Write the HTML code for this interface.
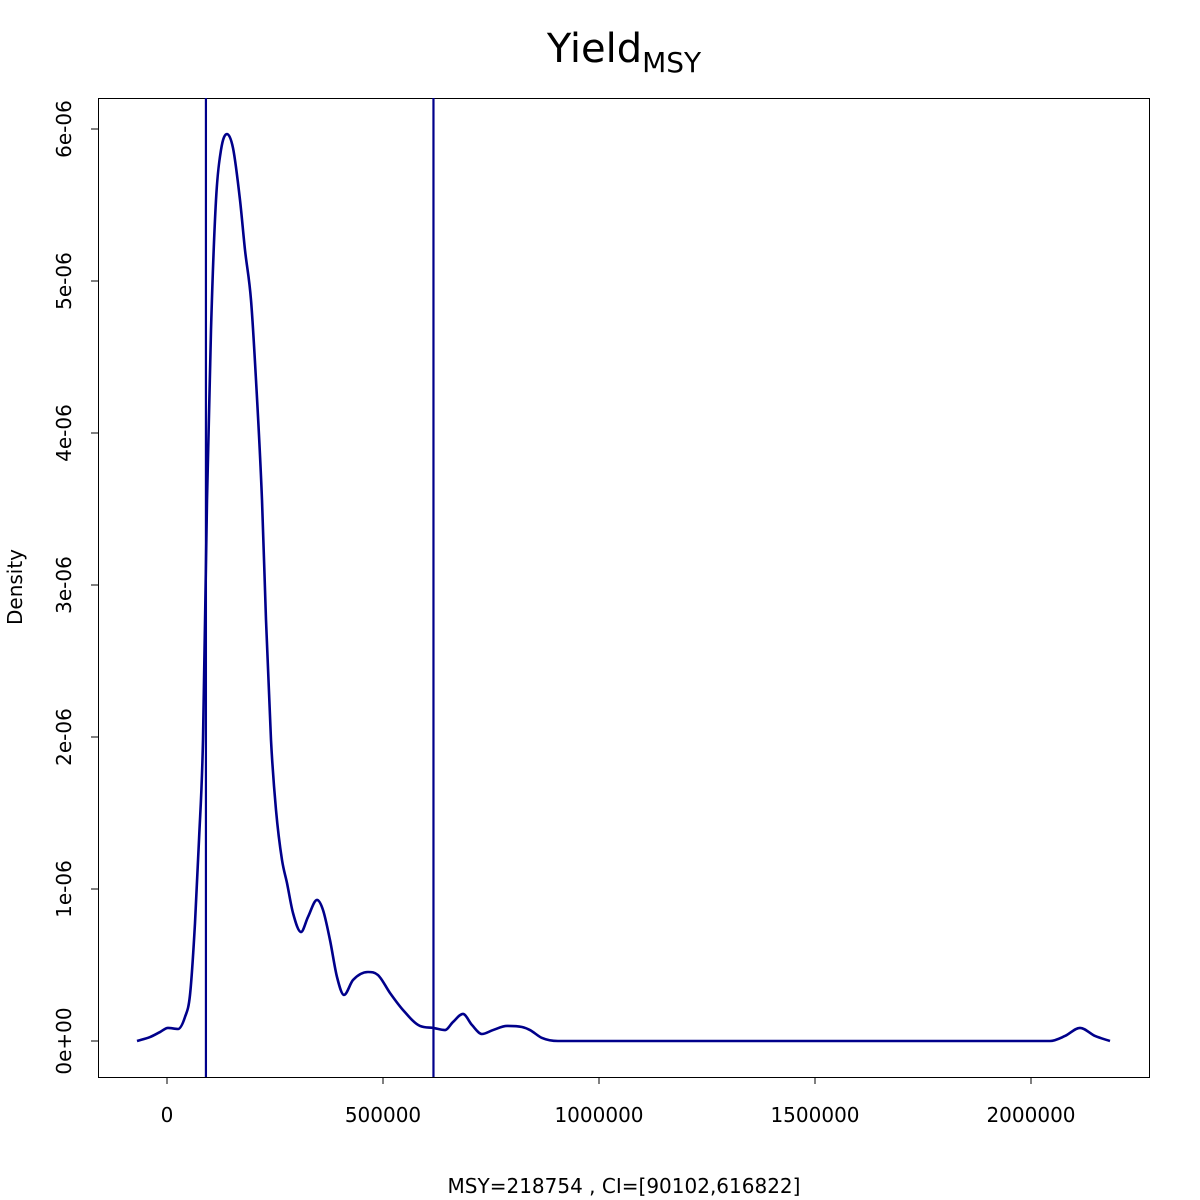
<!DOCTYPE html>
<html><head><meta charset="utf-8"><style>
html,body{margin:0;padding:0;background:#fff}
svg{display:block;font-family:"DejaVu Sans","Liberation Sans",sans-serif}
</style></head><body>
<svg id="chart" width="1200" height="1200" viewBox="0 0 1200 1200">
<text x="624" y="62" font-size="40" text-anchor="middle">Yield<tspan font-size="28" dy="10">MSY</tspan></text>
<rect x="98.5" y="98.5" width="1051" height="979" fill="none" stroke="#000" stroke-width="1"/>
<g id="xaxis"></g>
<g id="yaxis"></g>
<text x="22" y="587" font-size="20" text-anchor="middle" transform="rotate(-90 22 587)">Density</text>
<text x="624" y="1193" font-size="20" text-anchor="middle">MSY=218754 , CI=[90102,616822]</text>
<g id="marks"></g>
</svg>
<script>
const xVals=[-69444,-39352,-16204,2315,25463,41667,53241,64815,74074,83333,92593,101852,113426,125000,138889,152778,168981,180556,194444,206019,219907,229167,240741,252315,266204,277778,291667,310185,326389,347222,361111,377315,393519,409722,430556,465278,488426,516204,546296,585648,615741,643519,662037,685185,706019,729167,754630,787037,821759,840278,868056,905093,2043981,2078704,2113426,2148148,2182870];
const densityVals=[0,0.026,0.059,0.086,0.079,0.158,0.303,0.776,1.322,1.980,3.559,4.678,5.533,5.862,5.967,5.875,5.533,5.204,4.875,4.349,3.559,2.770,1.980,1.520,1.191,1.039,0.842,0.717,0.816,0.928,0.862,0.664,0.421,0.303,0.401,0.454,0.434,0.316,0.204,0.099,0.086,0.072,0.125,0.178,0.105,0.046,0.072,0.099,0.092,0.072,0.020,0,0,0.033,0.086,0.033,0];
const ciVals=[90102,616822];
const xTicks=[0,500000,1000000,1500000,2000000];
const xTickLabels=["0","500000","1000000","1500000","2000000"];
const yTicks=[0,1,2,3,4,5,6];
const yTickLabels=["0e+00","1e-06","2e-06","3e-06","4e-06","5e-06","6e-06"];

const NS="http://www.w3.org/2000/svg";
const X=v=>167+v*216/500000;
const Y=v=>1041-v*152;
const col="#00008B";
function mk(tag,attrs,parent){const e=document.createElementNS(NS,tag);for(const k in attrs)e.setAttribute(k,attrs[k]);parent.appendChild(e);return e;}
const xa=document.getElementById('xaxis'),ya=document.getElementById('yaxis'),mg=document.getElementById('marks');
xTicks.forEach((t,i)=>{
 const l=mk('line',{x1:X(t),x2:X(t),y1:1077,y2:1084,stroke:'#000'},xa);
 
 
 const tx=mk('text',{x:X(t),y:1122,'font-size':20,'text-anchor':'middle'},xa);
 tx.textContent=xTickLabels[i];
 
 
});
yTicks.forEach((t,i)=>{
 const l=mk('line',{x1:91,x2:98,y1:Y(t),y2:Y(t),stroke:'#000'},ya);
 
 
 const tx=mk('text',{x:71,y:Y(t),'font-size':20,'text-anchor':'middle',transform:`rotate(-90 71 ${Y(t)})`},ya);
 tx.textContent=yTickLabels[i];
 
 
});
// monotone cubic (Fritsch-Carlson) in pixel space
const P=xVals.map((v,i)=>[X(v),Y(densityVals[i])]);
const n=P.length,dk=[],m=[];
for(let i=0;i<n-1;i++)dk.push((P[i+1][1]-P[i][1])/(P[i+1][0]-P[i][0]));
m[0]=dk[0];m[n-1]=dk[n-2];
for(let i=1;i<n-1;i++){m[i]=(dk[i-1]*dk[i]<=0)?0:(dk[i-1]+dk[i])/2;}
for(let i=0;i<n-1;i++){
 if(dk[i]===0){m[i]=0;m[i+1]=0;continue;}
 const a=m[i]/dk[i],b=m[i+1]/dk[i],s=a*a+b*b;
 if(s>9){const t=3/Math.sqrt(s);m[i]=t*a*dk[i];m[i+1]=t*b*dk[i];}
}
let d=`M${P[0][0]},${P[0][1]}`;
for(let i=0;i<n-1;i++){
 const h=(P[i+1][0]-P[i][0])/3;
 d+=` C${P[i][0]+h},${P[i][1]+m[i]*h} ${P[i+1][0]-h},${P[i+1][1]-m[i+1]*h} ${P[i+1][0]},${P[i+1][1]}`;
}
const path=mk('path',{d:d,fill:'none',stroke:col,'stroke-width':2.6,'stroke-linejoin':'round'},mg);


ciVals.forEach(v=>{
 const l=mk('line',{x1:X(v),x2:X(v),y1:98,y2:1077,stroke:col,'stroke-width':2.2},mg);
 
 
});
</script>
</body></html>
